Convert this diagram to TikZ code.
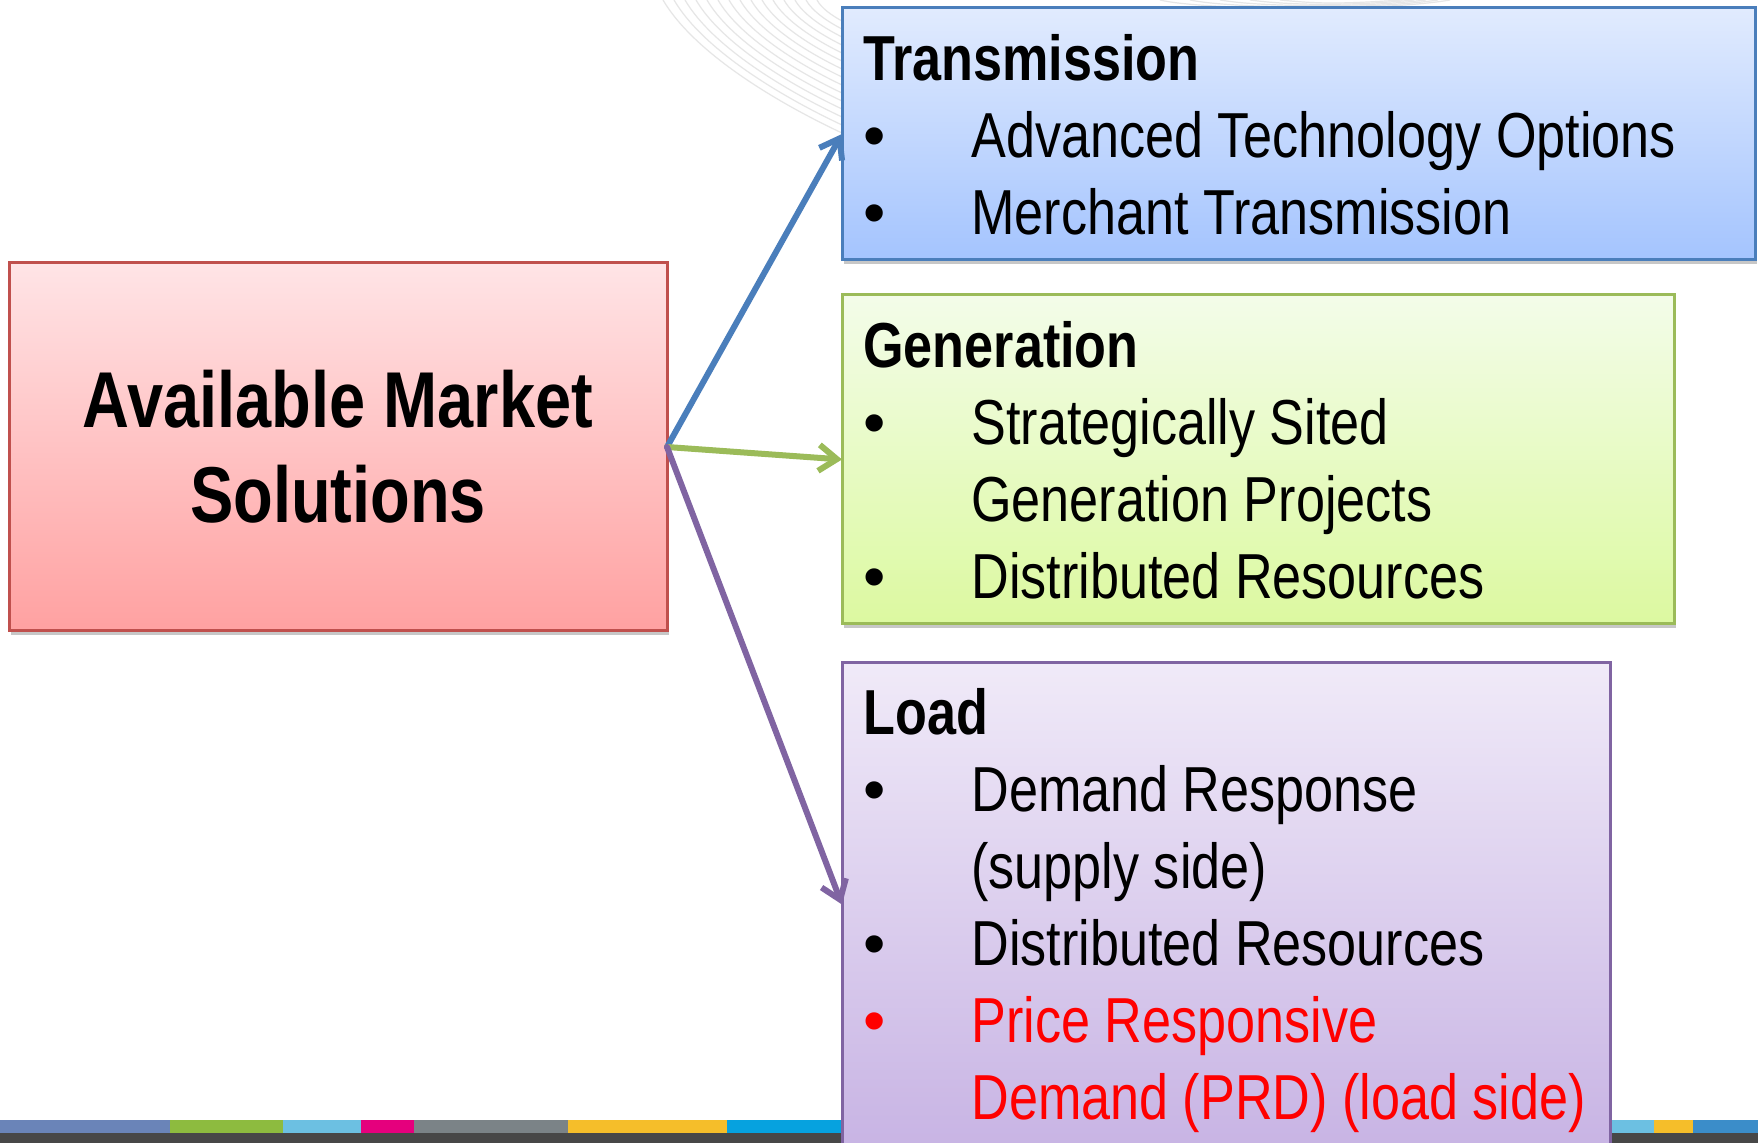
\documentclass[tikz,border=0pt]{standalone}
\usepackage{fontspec}
\setmainfont{Liberation Sans}[FakeStretch=0.82]
\newfontfamily\bulfont{Liberation Sans}
\usetikzlibrary{arrows.meta,shadows}
\definecolor{redTop}{HTML}{FFE4E6}
\definecolor{redBot}{HTML}{FFA1A1}
\definecolor{redLine}{HTML}{C0504D}
\definecolor{blueTop}{HTML}{E1EBFE}
\definecolor{blueBot}{HTML}{A4C4FE}
\definecolor{blueLine}{HTML}{4A7EBB}
\definecolor{greenTop}{HTML}{F3FCE9}
\definecolor{greenBot}{HTML}{DCF9A0}
\definecolor{greenLine}{HTML}{9BBB59}
\definecolor{purpTop}{HTML}{F0EAF8}
\definecolor{purpBot}{HTML}{C8B4E4}
\definecolor{purpLine}{HTML}{8064A2}
\definecolor{arcGray}{HTML}{E6E6E6}
\definecolor{prdRed}{HTML}{FF0000}
\definecolor{sA}{HTML}{6A84B8}
\definecolor{sB}{HTML}{8DBB3F}
\definecolor{sC}{HTML}{6CC0E2}
\definecolor{sD}{HTML}{E5007D}
\definecolor{sE}{HTML}{7B8387}
\definecolor{sF}{HTML}{F5BE2A}
\definecolor{sG}{HTML}{06A2DF}
\definecolor{sH}{HTML}{3B8DC9}
\definecolor{sDark}{HTML}{474747}
\newcommand{\bulletmark}{\makebox[54pt][l]{\bulfont\textbullet}}
\begin{document}
\begin{tikzpicture}[x=0.5pt,y=-0.5pt,
  box/.style={rectangle, anchor=north west, inner sep=0pt, outer sep=0pt,
    line width=1.5pt,
    drop shadow={shadow xshift=1.2pt, shadow yshift=-1.8pt, opacity=0.22, fill=black}},
  arrowtip/.style={-{Straight Barb[length=9pt,width=13pt]}},
  hd/.style={anchor=base west, inner sep=0pt, font=\fontsize{31.8}{38}\selectfont\bfseries},
  ln/.style={anchor=base west, inner sep=0pt, font=\fontsize{31.8}{38}\selectfont},
  ttl/.style={font=\fontsize{39.6}{47.5}\selectfont\bfseries, align=center}
]
\useasboundingbox (0,0) rectangle (1758,1143);
\clip (0,0) rectangle (1758,1143);
\fill[white] (0,0) rectangle (1758,1143);

% faint background arcs
\foreach \k in {0,...,14}{
  \pgfmathsetmacro{\sx}{663+11*\k}
  \pgfmathsetmacro{\ey}{133-8*\k}
  \pgfmathsetmacro{\dx}{842-\sx}
  \draw[arcGray, line width=0.6pt]
    (\sx,0) .. controls ({\sx+0.17*\dx},{0.39*\ey}) and ({842-0.38*\dx},{0.76*\ey}) .. (842,\ey);
}
\foreach \k in {0,...,4}{
  \draw[arcGray, line width=0.6pt]
    ({1160+\k*30},0) .. controls ({1200+\k*30},{10-\k*1.5}) and ({1380-\k*10},{12-\k*2}) .. ({1450-\k*12},0);
}

% bottom colour stripe
\fill[sDark] (0,1133) rectangle (1758,1143);
\fill[sA] (0,1120) rectangle (170,1133);
\fill[sB] (170,1120) rectangle (283,1133);
\fill[sC] (283,1120) rectangle (361,1133);
\fill[sD] (361,1120) rectangle (414,1133);
\fill[sE] (414,1120) rectangle (568,1133);
\fill[sF] (568,1120) rectangle (727,1133);
\fill[sG] (727,1120) rectangle (1611,1133);
\fill[sC] (1611,1120) rectangle (1654,1133);
\fill[sF] (1654,1120) rectangle (1693,1133);
\fill[sH] (1693,1120) rectangle (1758,1133);

% boxes
\node[box, ttl, draw=redLine, top color=redTop, bottom color=redBot,
      minimum width=329pt, minimum height=184pt] (amsol) at (9,263)
      {Available Market\\Solutions};
\node[box, draw=blueLine, top color=blueTop, bottom color=blueBot,
      minimum width=456.5pt, minimum height=126pt] (trans) at (842,8) {};
\node[box, draw=greenLine, top color=greenTop, bottom color=greenBot,
      minimum width=416pt, minimum height=164.5pt] (gen) at (842,295) {};
\node[box, draw=purpLine, top color=purpTop, bottom color=purpBot,
      minimum width=384pt, minimum height=241.5pt] (load) at (842,663) {};

% connectors
\draw[blueLine, line width=3pt, line cap=round, arrowtip] (amsol.east) -- (trans.west);
\draw[greenLine, line width=3pt, line cap=round, arrowtip] (amsol.east) -- (gen.west);
\draw[purpLine, line width=3pt, line cap=round, arrowtip] (amsol.east) -- (load.west);

% transmission text
\node[hd] (t0) at (863,81) {Transmission};
\node[ln] (t1) at (863,158) {\bulletmark Advanced Technology Options};
\node[ln] (t2) at (863,235) {\bulletmark Merchant Transmission};

% generation text
\node[hd] (g0) at (863,368) {Generation};
\node[ln] (g1) at (863,445) {\bulletmark Strategically Sited};
\node[ln] (g2) at (971,522) {Generation Projects};
\node[ln] (g3) at (863,599) {\bulletmark Distributed Resources};

% load text
\node[hd] (l0) at (863,735) {Load};
\node[ln] (l1) at (863,812) {\bulletmark Demand Response};
\node[ln] (l2) at (971,889) {(supply side)};
\node[ln] (l3) at (863,966) {\bulletmark Distributed Resources};
\node[ln, text=prdRed] (l4) at (863,1043) {\bulletmark Price Responsive};
\node[ln, text=prdRed] (l5) at (971,1120) {Demand (PRD) (load side)};
\end{tikzpicture}
\end{document}
